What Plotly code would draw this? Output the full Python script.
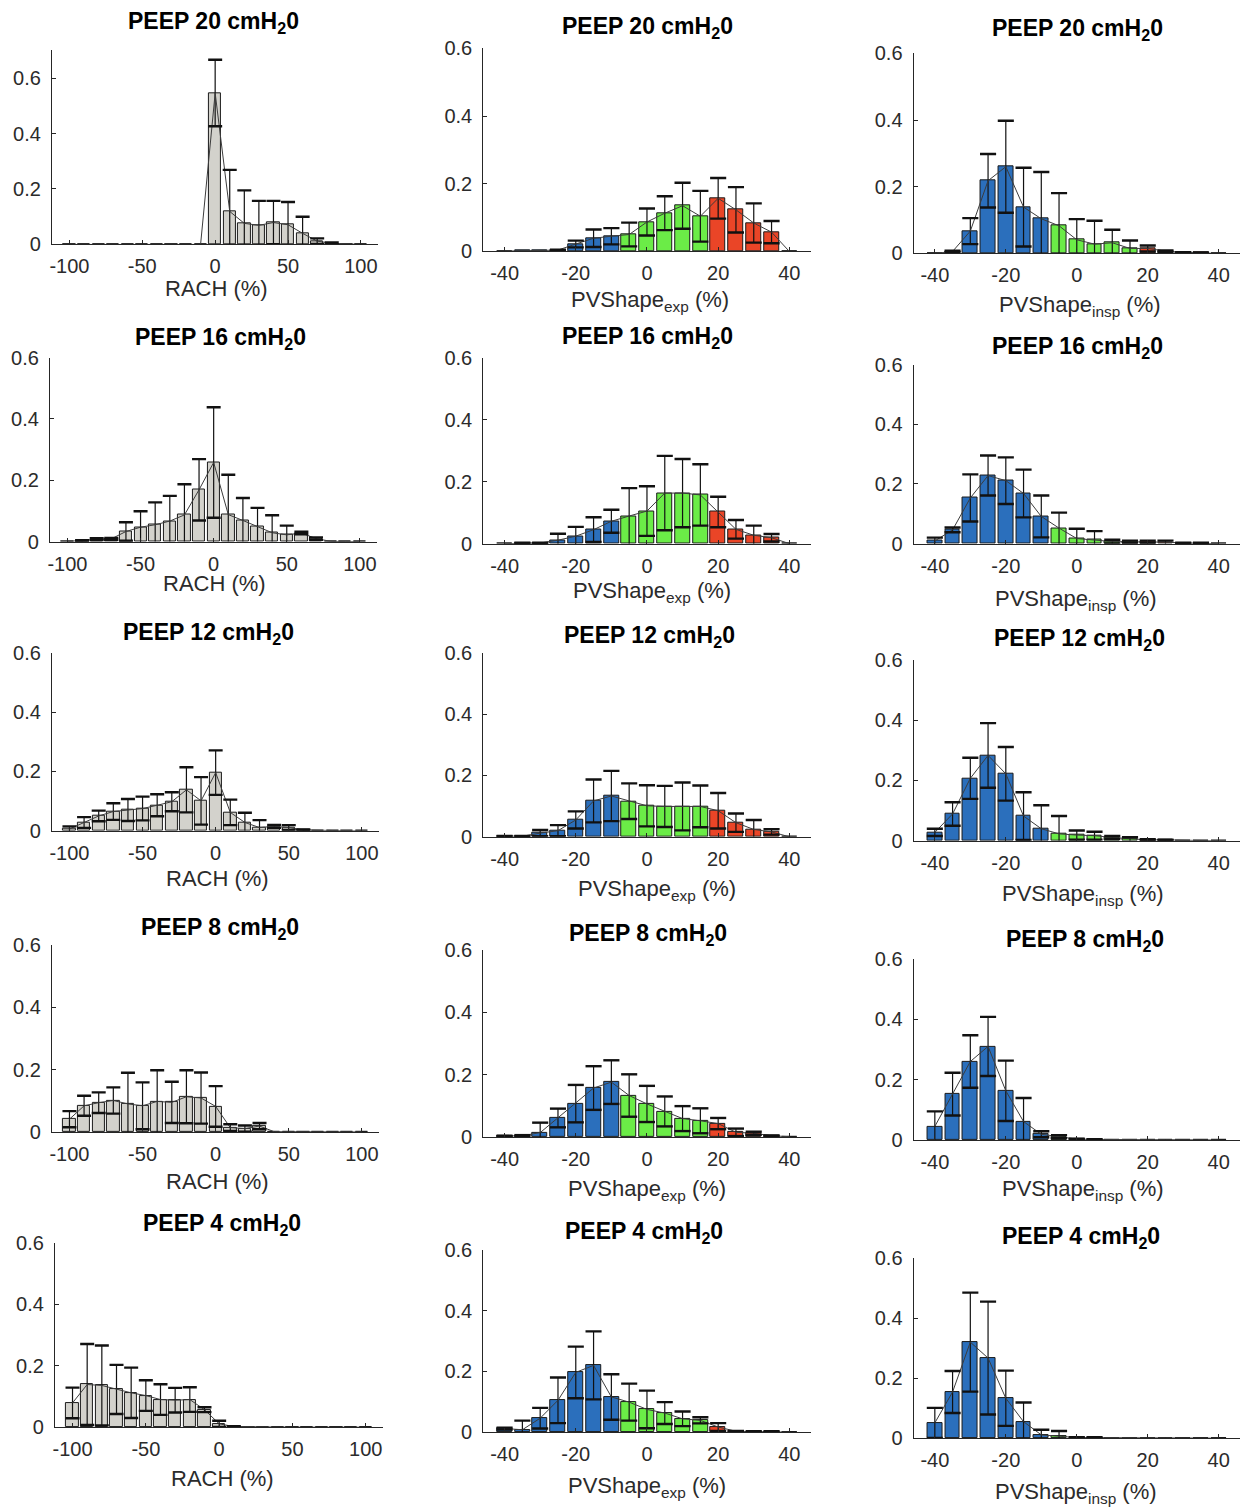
import plotly.graph_objects as go

# ---------------- data ----------------
rach_bins = [-100, -90, -80, -70, -60, -50, -40, -30, -20, -10, 0, 10, 20, 30, 40, 50, 60, 70, 80, 90, 100]
pv_bins = [-40, -35, -30, -25, -20, -15, -10, -5, 0, 5, 10, 15, 20, 25, 30, 35, 40]
pv_zone = ["b", "b", "b", "b", "b", "b", "b", "g", "g", "g", "g", "g", "r", "r", "r", "r", "r"]

peep_levels = [20, 16, 12, 8, 4]

rach_p20_mean = [0, 0, 0, 0, 0, 0, 0, 0, 0, 0, 0.546, 0.119, 0.076, 0.069, 0.079, 0.071, 0.040, 0.012, 0.004, 0.001, 0]
rach_p20_sd = [0, 0, 0, 0, 0, 0, 0, 0, 0, 0, 0.120, 0.150, 0.119, 0.088, 0.078, 0.082, 0.060, 0.010, 0.003, 0, 0]
rach_p16_mean = [0.001, 0.003, 0.008, 0.009, 0.033, 0.047, 0.055, 0.067, 0.087, 0.169, 0.258, 0.088, 0.069, 0.048, 0.029, 0.022, 0.028, 0.010, 0.001, 0, 0]
rach_p16_sd = [0, 0.002, 0.003, 0.003, 0.030, 0.052, 0.073, 0.082, 0.100, 0.100, 0.180, 0.130, 0.073, 0.062, 0.057, 0.030, 0.004, 0.004, 0, 0, 0]
rach_p12_mean = [0.006, 0.028, 0.050, 0.065, 0.070, 0.075, 0.086, 0.098, 0.138, 0.101, 0.196, 0.062, 0.028, 0.011, 0.015, 0.011, 0.003, 0.001, 0.001, 0, 0]
rach_p12_sd = [0.009, 0.018, 0.018, 0.028, 0.037, 0.040, 0.037, 0.032, 0.076, 0.080, 0.075, 0.043, 0.033, 0.025, 0.005, 0.008, 0.002, 0, 0, 0, 0]
rach_p8_mean = [0.041, 0.084, 0.094, 0.101, 0.090, 0.084, 0.098, 0.095, 0.113, 0.109, 0.082, 0.014, 0.011, 0.019, 0.001, 0.001, 0, 0, 0, 0, 0]
rach_p8_sd = [0.026, 0.032, 0.033, 0.042, 0.100, 0.075, 0.100, 0.066, 0.085, 0.082, 0.065, 0.011, 0.010, 0.010, 0, 0, 0, 0, 0, 0, 0]
rach_p4_mean = [0.079, 0.139, 0.136, 0.123, 0.112, 0.103, 0.090, 0.088, 0.090, 0.057, 0.011, 0.002, 0.001, 0, 0, 0, 0, 0, 0, 0, 0]
rach_p4_sd = [0.050, 0.132, 0.130, 0.080, 0.082, 0.050, 0.050, 0.040, 0.040, 0.008, 0.010, 0.001, 0, 0, 0, 0, 0, 0, 0, 0, 0]

exp_p20_mean = [0.001, 0.002, 0.002, 0.004, 0.022, 0.039, 0.045, 0.050, 0.087, 0.113, 0.135, 0.104, 0.157, 0.123, 0.084, 0.057, 0]
exp_p20_sd = [0, 0, 0, 0.001, 0.010, 0.026, 0.024, 0.035, 0.040, 0.050, 0.068, 0.075, 0.060, 0.067, 0.058, 0.033, 0]
exp_p16_mean = [0, 0.002, 0.002, 0.011, 0.024, 0.045, 0.072, 0.089, 0.105, 0.163, 0.163, 0.157, 0.102, 0.046, 0.027, 0.019, 0]
exp_p16_sd = [0, 0.001, 0.001, 0.021, 0.030, 0.040, 0.037, 0.090, 0.080, 0.120, 0.110, 0.099, 0.049, 0.030, 0.031, 0.012, 0]
exp_p12_mean = [0.002, 0.002, 0.012, 0.020, 0.055, 0.117, 0.133, 0.116, 0.101, 0.099, 0.099, 0.099, 0.085, 0.046, 0.024, 0.016, 0]
exp_p12_sd = [0.001, 0.001, 0.010, 0.018, 0.028, 0.070, 0.082, 0.058, 0.067, 0.067, 0.078, 0.068, 0.058, 0.030, 0.031, 0.009, 0]
exp_p8_mean = [0.003, 0.004, 0.014, 0.061, 0.107, 0.157, 0.176, 0.133, 0.106, 0.082, 0.059, 0.052, 0.043, 0.015, 0.012, 0.004, 0.001]
exp_p8_sd = [0.001, 0.002, 0.032, 0.030, 0.060, 0.070, 0.070, 0.068, 0.058, 0.048, 0.040, 0.040, 0.018, 0.012, 0.005, 0.001, 0]
exp_p4_mean = [0.012, 0.008, 0.046, 0.105, 0.197, 0.220, 0.116, 0.099, 0.075, 0.063, 0.044, 0.039, 0.017, 0.003, 0.002, 0.002, 0]
exp_p4_sd = [0.003, 0.030, 0.034, 0.075, 0.085, 0.112, 0.075, 0.061, 0.062, 0.036, 0.024, 0.010, 0.013, 0.001, 0.001, 0.001, 0]

insp_p20_mean = [0, 0.006, 0.067, 0.218, 0.260, 0.139, 0.104, 0.083, 0.041, 0.028, 0.032, 0.015, 0.015, 0.007, 0.003, 0.002, 0]
insp_p20_sd = [0, 0.002, 0.039, 0.080, 0.138, 0.118, 0.140, 0.098, 0.062, 0.070, 0.039, 0.024, 0.009, 0.002, 0.001, 0.001, 0]
insp_p16_mean = [0.009, 0.046, 0.153, 0.228, 0.211, 0.168, 0.091, 0.052, 0.017, 0.013, 0.007, 0.006, 0.006, 0.005, 0.002, 0.002, 0]
insp_p16_sd = [0.011, 0.008, 0.079, 0.067, 0.078, 0.080, 0.070, 0.052, 0.033, 0.029, 0.006, 0.004, 0.004, 0.005, 0.001, 0.001, 0]
insp_p12_mean = [0.028, 0.089, 0.207, 0.283, 0.222, 0.082, 0.040, 0.023, 0.019, 0.017, 0.011, 0.006, 0.003, 0.003, 0.001, 0.001, 0]
insp_p12_sd = [0.012, 0.039, 0.068, 0.107, 0.089, 0.079, 0.078, 0.059, 0.015, 0.013, 0.005, 0.006, 0.002, 0.001, 0, 0, 0]
insp_p8_mean = [0.045, 0.152, 0.260, 0.310, 0.163, 0.061, 0.019, 0.011, 0.003, 0.002, 0.001, 0.001, 0.001, 0.001, 0.001, 0.001, 0]
insp_p8_sd = [0.050, 0.071, 0.087, 0.098, 0.100, 0.078, 0.010, 0.005, 0.001, 0.001, 0, 0, 0, 0, 0, 0, 0]
insp_p4_mean = [0.051, 0.154, 0.320, 0.267, 0.133, 0.055, 0.011, 0.006, 0.002, 0.002, 0.001, 0.001, 0.001, 0.001, 0.001, 0.001, 0]
insp_p4_sd = [0.050, 0.070, 0.165, 0.188, 0.092, 0.064, 0.017, 0.018, 0.001, 0.001, 0, 0, 0, 0, 0, 0, 0]

rach_x_ticks = [-100, -50, 0, 50, 100]
rach_x_ticktext = ["-100", "-50", "0", "50", "100"]
pv_x_ticks = [-40, -20, 0, 20, 40]
pv_x_ticktext = ["-40", "-20", "0", "20", "40"]
y_ticks = [0, 0.2, 0.4, 0.6]
y_ticktext = ["0", "0.2", "0.4", "0.6"]

# ---------------- styling / layout (pixels of the 1250x1508 page) ----------------
W, H = 1250, 1508
GRAY = "#d3d2cc"
ZONE_COLORS = {"b": "#2b6fbc", "g": "#6bec47", "r": "#ea4527"}
FONT = "Liberation Sans, Arial, Helvetica, sans-serif"
TXT = "#2b2b2b"

col_lr = [[(50, 377), (48, 376), (50, 378), (50, 378), (53, 382)],
          [(482, 810)] * 5,
          [(913, 1240)] * 5]
row_tb = [[(50, 244), (357, 541), (652, 830), (944, 1131), (1242, 1426)],
          [(48, 251), (357, 543), (652, 836), (949, 1136), (1249, 1431)],
          [(53, 253), (364, 543), (659, 840), (958, 1139), (1257, 1437)]]
title_xy = [[(212, 19), (219, 335), (207, 630), (218, 925), (220, 1220)],
            [(647, 24), (647, 334), (649, 633), (647, 931), (643, 1228)],
            [(1077, 26), (1077, 344), (1079, 636), (1085, 937), (1081, 1233)]]
xlab_xy = [[(215, 288), (213, 583), (216, 878), (216, 1180), (221, 1477)],
           [(649, 297), (651, 587), (656, 885), (646, 1185), (646, 1482)],
           [(1080, 302), (1076, 595), (1083, 890), (1083, 1185), (1076, 1488)]]

rach_means = [rach_p20_mean, rach_p16_mean, rach_p12_mean, rach_p8_mean, rach_p4_mean]
rach_sds = [rach_p20_sd, rach_p16_sd, rach_p12_sd, rach_p8_sd, rach_p4_sd]
exp_means = [exp_p20_mean, exp_p16_mean, exp_p12_mean, exp_p8_mean, exp_p4_mean]
exp_sds = [exp_p20_sd, exp_p16_sd, exp_p12_sd, exp_p8_sd, exp_p4_sd]
insp_means = [insp_p20_mean, insp_p16_mean, insp_p12_mean, insp_p8_mean, insp_p4_mean]
insp_sds = [insp_p20_sd, insp_p16_sd, insp_p12_sd, insp_p8_sd, insp_p4_sd]

# the photographed page shows the figure slightly squeezed vertically; undo it
V_OFF, V_SCALE = 10.7, 0.9848


def fx(px):
    return px / W


def fy(py):
    return 1 - ((py - V_OFF) / V_SCALE) / H


fig = go.Figure()
layout = {}
annotations = []

k = 0
for c in range(3):
    for r in range(5):
        k += 1
        xa, ya = f"x{k}", f"y{k}"
        if c == 0:
            bins, mean, sd = rach_bins, rach_means[r], rach_sds[r]
            colors = [GRAY] * len(bins)
            bw, xr, xt, xtt = 8.4, [-112, 112], rach_x_ticks, rach_x_ticktext
            ymax = 0.7 if r == 0 else 0.6
            xlabel = "RACH (%)"
            cap = 10
        else:
            bins = pv_bins
            mean = exp_means[r] if c == 1 else insp_means[r]
            sd = exp_sds[r] if c == 1 else insp_sds[r]
            colors = [ZONE_COLORS[z] for z in pv_zone]
            bw, xr, xt, xtt = 4.2, [-46, 46], pv_x_ticks, pv_x_ticktext
            ymax = 0.6
            xlabel = "PVShape<sub>exp</sub> (%)" if c == 1 else "PVShape<sub>insp</sub> (%)"
            cap = 11.5

        fig.add_trace(go.Bar(
            x=bins, y=mean, width=bw, marker=dict(color=colors, line=dict(color="#1a1a1a", width=1)),
            xaxis=xa, yaxis=ya, showlegend=False, hoverinfo="skip"))
        lower = [min(s, m) for m, s in zip(mean, sd)]
        fig.add_trace(go.Scatter(
            x=bins, y=mean, mode="lines", line=dict(color="#3c3c3c", width=1),
            error_y=dict(type="data", symmetric=False, array=sd, arrayminus=lower,
                         width=0, thickness=1.2, color="#111111"),
            xaxis=xa, yaxis=ya, showlegend=False, hoverinfo="skip"))
        cap_y = ([m + s if s > 0 else None for m, s in zip(mean, sd)] +
                 [m - s if (s > 0 and m - s > 0) else None for m, s in zip(mean, sd)])
        fig.add_trace(go.Scatter(
            x=list(bins) + list(bins), y=cap_y, mode="markers",
            marker=dict(symbol="line-ew", size=cap, color="#111111",
                        line=dict(color="#111111", width=2.4)),
            xaxis=xa, yaxis=ya, showlegend=False, hoverinfo="skip"))

        left, right = col_lr[c][r]
        top, bottom = row_tb[c][r]
        axis_common = dict(showline=True, linecolor="#262626", linewidth=1, showgrid=False,
                           zeroline=False, ticks="inside", ticklen=4, tickcolor="#262626",
                           tickfont=dict(family=FONT, size=20, color=TXT))
        layout[f"xaxis{k}"] = dict(domain=[fx(left), fx(right)], anchor=ya, range=xr,
                                   tickvals=xt, ticktext=xtt, ticklabelstandoff=4, **axis_common)
        layout[f"yaxis{k}"] = dict(domain=[fy(bottom), fy(top)], anchor=xa, range=[0, ymax],
                                   tickvals=y_ticks, ticktext=y_ticktext,
                                   ticklabelstandoff=6, **axis_common)

        tx, ty = title_xy[c][r]
        annotations.append(dict(
            text=f"<b>PEEP {peep_levels[r]} cmH<sub>2</sub>0</b>", x=fx(tx), y=fy(ty + 3),
            xref="paper", yref="paper", xanchor="center", yanchor="middle", showarrow=False,
            font=dict(family=FONT, size=23, color="#000000")))
        lx, ly = xlab_xy[c][r]
        annotations.append(dict(
            text=xlabel, x=fx(lx), y=fy(ly + (4 if c > 0 else 0)),
            xref="paper", yref="paper", xanchor="center", yanchor="middle", showarrow=False,
            font=dict(family=FONT, size=22, color=TXT)))

fig.update_layout(
    width=W, height=H, margin=dict(l=0, r=0, t=0, b=0),
    paper_bgcolor="white", plot_bgcolor="white",
    bargap=0, annotations=annotations, showlegend=False, **layout)

fig.write_html("out.html")
